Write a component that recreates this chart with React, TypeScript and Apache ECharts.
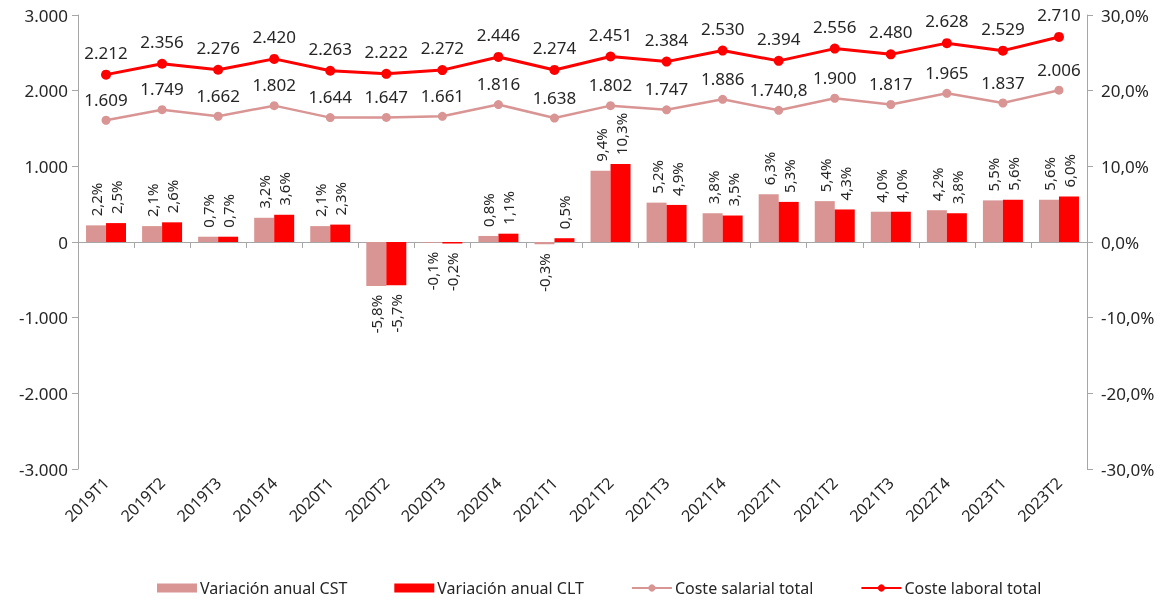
import React, { useEffect, useRef } from "react";
import * as echarts from "echarts";

const categories = ["2019T1","2019T2","2019T3","2019T4","2020T1","2020T2","2020T3","2020T4","2021T1","2021T2","2021T3","2021T4","2022T1","2021T2","2021T3","2022T4","2023T1","2023T2"];
const varCST = [2.2,2.1,0.7,3.2,2.1,-5.8,-0.1,0.8,-0.3,9.4,5.2,3.8,6.3,5.4,4.0,4.2,5.5,5.6];
const varCLT = [2.5,2.6,0.7,3.6,2.3,-5.7,-0.2,1.1,0.5,10.3,4.9,3.5,5.3,4.3,4.0,3.8,5.6,6.0];
const costeSalarial = [1609,1749,1662,1802,1644,1647,1661,1816,1638,1802,1747,1886,1740.8,1900,1817,1965,1837,2006];
const costeLaboral = [2212,2356,2276,2420,2263,2222,2272,2446,2274,2451,2384,2530,2394,2556,2480,2628,2529,2710];

const FONT = "Noto Sans";
const TEXT = "#262626";
const PINK = "#D99594";
const RED = "#FF0000";
const AXIS = "#A6A6A6";

function fmtThousands(v: number): string {
  const neg = v < 0;
  const a = Math.abs(v);
  const intPart = Math.floor(a);
  const dec = Math.round((a - intPart) * 10);
  const s = String(intPart).replace(/\B(?=(\d{3})+(?!\d))/g, ".");
  return (neg ? "-" : "") + s + (dec ? "," + dec : "");
}
function fmtPct(v: number): string {
  return v.toFixed(1).replace(".", ",") + "%";
}

function barData(vals: number[]) {
  return vals.map((v) => ({
    value: v,
    label: v >= 0
      ? { position: "top", rotate: 90, align: "left", verticalAlign: "middle", distance: 9 }
      : { position: "bottom", rotate: 90, align: "right", verticalAlign: "middle", distance: 9 },
  }));
}

export default function App() {
  const ref = useRef<HTMLDivElement>(null);
  useEffect(() => {
    if (!ref.current) return;
    const chart = echarts.init(ref.current, null, { renderer: "svg" });
    chart.setOption({
      animation: false,
      textStyle: { fontFamily: FONT },
      grid: { left: 78, right: 80, top: 15, bottom: 131, containLabel: false },
      legend: {
        bottom: -1,
        left: 152,
        itemWidth: 40,
        itemHeight: 9,
        itemGap: 47,
        textStyle: { fontFamily: FONT, fontSize: 16, color: TEXT, padding: [0, 0, 0, -2] },
        data: [
          { name: "Variación anual CST", icon: "rect" },
          { name: "Variación anual CLT", icon: "rect" },
          { name: "Coste salarial total" },
          { name: "Coste laboral total" },
        ],
      },
      xAxis: [
        {
          type: "category",
          data: categories,
          position: "bottom",
          axisLine: { onZero: true, lineStyle: { color: AXIS, width: 1 } },
          axisTick: { show: true, interval: 0, length: 6, lineStyle: { color: AXIS } },
          axisLabel: { show: false },
          splitLine: { show: false },
        },
        {
          type: "category",
          data: categories,
          position: "bottom",
          axisLine: { show: false, onZero: false },
          axisTick: { show: false },
          axisLabel: {
            interval: 0,
            rotate: 45,
            margin: 11,
            fontFamily: FONT,
            fontSize: 16,
            color: TEXT,
          },
          splitLine: { show: false },
        },
      ],
      yAxis: [
        {
          type: "value",
          min: -3000,
          max: 3000,
          interval: 1000,
          position: "left",
          axisLine: { show: true, lineStyle: { color: AXIS } },
          axisTick: { show: true, length: 6, lineStyle: { color: AXIS } },
          splitLine: { show: false },
          axisLabel: { formatter: (v: number) => fmtThousands(v), fontFamily: FONT, fontSize: 17, color: TEXT, margin: 10 },
        },
        {
          type: "value",
          min: -30,
          max: 30,
          interval: 10,
          position: "right",
          axisLine: { show: true, lineStyle: { color: AXIS } },
          axisTick: { show: true, length: 6, lineStyle: { color: AXIS } },
          splitLine: { show: false },
          axisLabel: { formatter: (v: number) => fmtPct(v), fontFamily: FONT, fontSize: 17, color: TEXT, margin: 14 },
        },
      ],
      series: [
        {
          name: "Variación anual CST",
          type: "bar",
          xAxisIndex: 0,
          yAxisIndex: 1,
          data: barData(varCST),
          barWidth: 20,
          barGap: "0%",
          itemStyle: { color: PINK },
          label: { show: true, formatter: (p: any) => fmtPct(p.value), fontFamily: FONT, fontSize: 15, color: TEXT },
        },
        {
          name: "Variación anual CLT",
          type: "bar",
          xAxisIndex: 0,
          yAxisIndex: 1,
          data: barData(varCLT),
          barWidth: 20,
          barGap: "0%",
          itemStyle: { color: RED },
          label: { show: true, formatter: (p: any) => fmtPct(p.value), fontFamily: FONT, fontSize: 15, color: TEXT },
        },
        {
          name: "Coste salarial total",
          type: "line",
          xAxisIndex: 0,
          yAxisIndex: 0,
          data: costeSalarial,
          symbol: "circle",
          symbolSize: 9,
          lineStyle: { color: PINK, width: 2.5 },
          itemStyle: { color: PINK },
          label: { show: true, position: "top", distance: 8, formatter: (p: any) => fmtThousands(p.value), fontFamily: FONT, fontSize: 17, color: TEXT },
        },
        {
          name: "Coste laboral total",
          type: "line",
          xAxisIndex: 0,
          yAxisIndex: 0,
          data: costeLaboral,
          symbol: "circle",
          symbolSize: 10,
          lineStyle: { color: RED, width: 3 },
          itemStyle: { color: RED },
          label: { show: true, position: "top", distance: 9, formatter: (p: any) => fmtThousands(p.value), fontFamily: FONT, fontSize: 17, color: TEXT },
        },
      ],
    });
    return () => chart.dispose();
  }, []);
  return <div ref={ref} style={{ position: "fixed", left: 0, top: 0, width: 1167, height: 600 }} />;
}
